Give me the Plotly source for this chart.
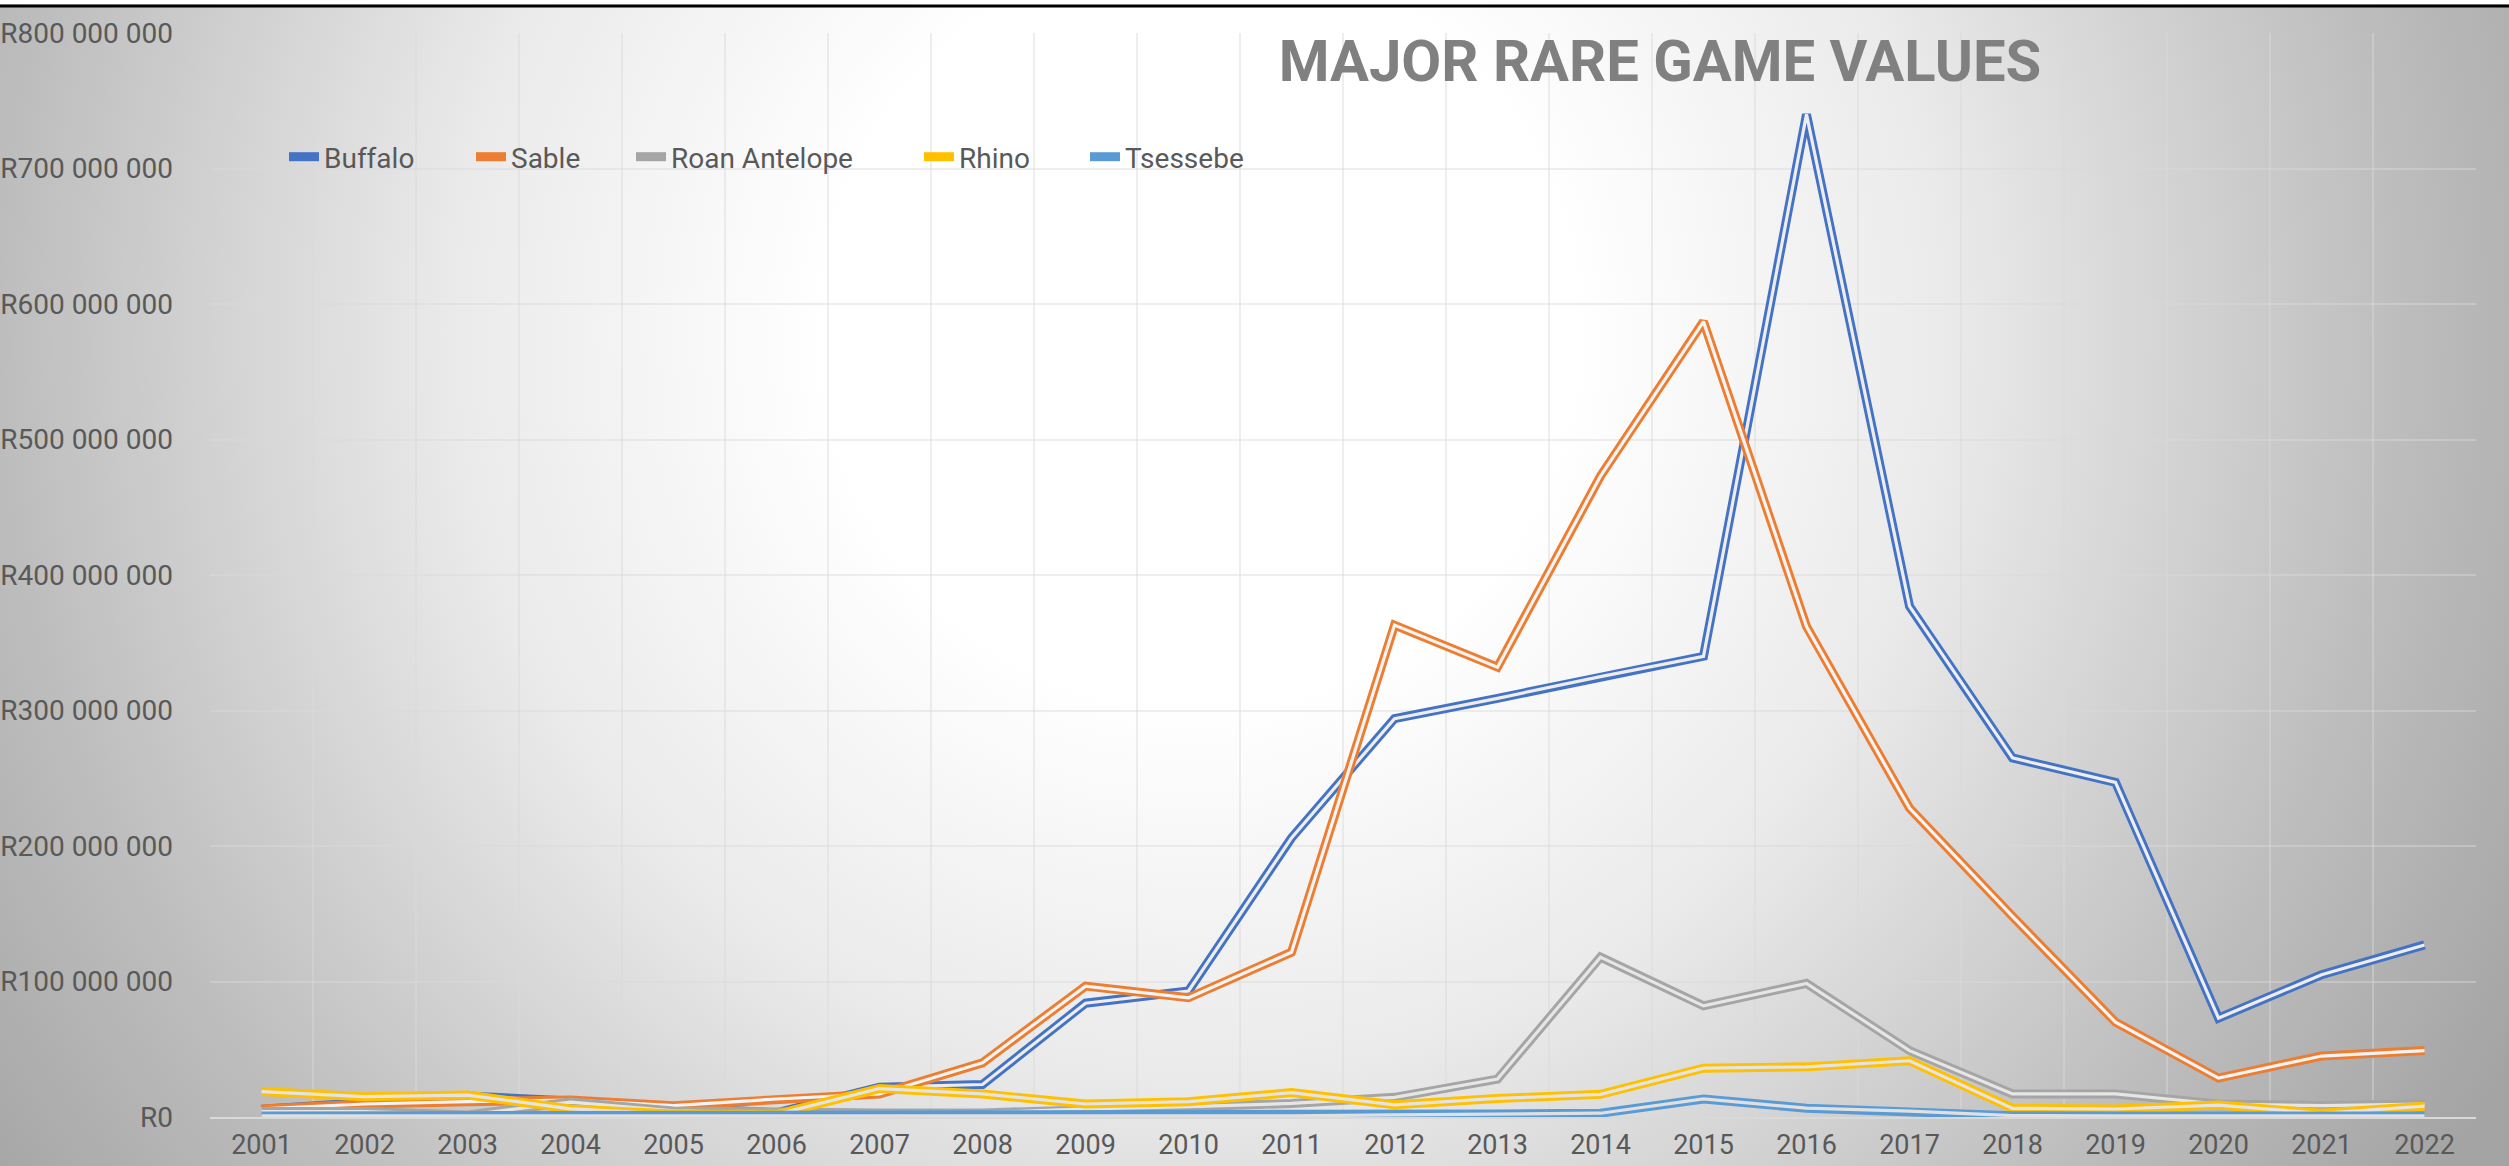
import base64
import plotly.graph_objects as go

# ---------------- data ----------------
YEARS = list(range(2001, 2023))
YEAR_LABELS = [str(y) for y in YEARS]

BUFFALO = [5.7e6, 10.6e6, 15.5e6, 11.8e6, 7.0e6, 3.0e6, 22e6, 24e6, 84e6, 93e6, 206e6,
           294e6, 309e6, 325e6, 340e6, 740e6, 377e6, 265e6, 247e6, 73e6, 105e6, 127e6]
SABLE = [6.0e6, 9.6e6, 11.3e6, 12.5e6, 8.4e6, 13.3e6, 17e6, 40e6, 96.6e6, 88e6, 121.6e6,
         363e6, 332e6, 473e6, 587e6, 362e6, 228e6, 148e6, 70e6, 28.7e6, 45e6, 49e6]
ROAN = [4.0e6, 4.0e6, 1.5e6, 11e6, 4.5e6, 3.0e6, 3.0e6, 3.0e6, 6.0e6, 7.6e6, 10e6,
        14.5e6, 28e6, 118e6, 82e6, 98.6e6, 49e6, 17e6, 17e6, 9.6e6, 8.4e6, 9.6e6]
RHINO = [18.8e6, 15e6, 16.2e6, 6.0e6, 2.2e6, 2.0e6, 21e6, 17e6, 9.6e6, 11.3e6, 18e6,
         9.0e6, 13.7e6, 16.7e6, 36e6, 37e6, 41.5e6, 6.4e6, 5.9e6, 8.8e6, 2.7e6, 8.0e6]
TSESSEBE = [0.8e6, 0.8e6, 0.8e6, 0.8e6, 0.8e6, 0.8e6, 0.8e6, 0.8e6, 0.8e6, 0.8e6, 0.9e6,
            1.5e6, 2.2e6, 2.8e6, 13.3e6, 6.5e6, 4.3e6, 1.0e6, 0.8e6, 0.8e6, 0.8e6, 0.8e6]

SERIES_NAMES = ["Buffalo", "Sable", "Roan Antelope", "Rhino", "Tsessebe"]
SERIES_VALUES = [BUFFALO, SABLE, ROAN, RHINO, TSESSEBE]

Y_TICKS = [0, 1e8, 2e8, 3e8, 4e8, 5e8, 6e8, 7e8, 8e8]
Y_TICK_LABELS = ["R0", "R100 000 000", "R200 000 000", "R300 000 000", "R400 000 000",
                 "R500 000 000", "R600 000 000", "R700 000 000", "R800 000 000"]

TITLE = "MAJOR RARE GAME VALUES"

# ---------------- styles ----------------
COLORS = ["#4472C4", "#ED7D31", "#A5A5A5", "#FFC000", "#5B9BD5"]
GAP_COLORS = ["#ededed", "#f3f3f3", "#e6e6e6", "#e4e4e4", "#e0e0e0"]
LEGEND_TEXT_X = [325, 512, 672, 960, 1126]   # pixel x where each legend label starts
W, H = 2509, 1166
ML, MR, MT, MB = 210, 33, 33, 49
PW, PH = W - ML - MR, H - MT - MB
FONT = "Roboto, Lato, sans-serif"
TXT = "#595959"
GRID = "rgba(217,217,217,0.45)"

svg = f'''<svg xmlns="http://www.w3.org/2000/svg" width="{W}" height="{H}" viewBox="0 0 {W} {H}" preserveAspectRatio="none">
<defs><radialGradient id="g" gradientUnits="userSpaceOnUse" cx="1200" cy="330" r="1500">
<stop offset="0" stop-color="#ffffff"/><stop offset="0.25" stop-color="#ffffff"/>
<stop offset="0.5" stop-color="#eaeaea"/><stop offset="0.8" stop-color="#bdbdbd"/>
<stop offset="1" stop-color="#a4a4a4"/></radialGradient></defs>
<rect width="{W}" height="{H}" fill="url(#g)"/>
<rect width="{W}" height="4.5" fill="#ffffff"/>
<rect y="4.5" width="{W}" height="3" fill="#000000"/>
</svg>'''
bg_uri = "data:image/svg+xml;base64," + base64.b64encode(svg.encode()).decode()

fig = go.Figure()
legend_ids = ["legend", "legend2", "legend3", "legend4", "legend5"]
for name, vals, col, gap, lid in zip(SERIES_NAMES, SERIES_VALUES, COLORS, GAP_COLORS, legend_ids):
    fig.add_trace(go.Scatter(x=YEARS, y=vals, mode="lines", name=name, legendgroup=name,
                             legend=lid, line=dict(color=col, width=9)))
    fig.add_trace(go.Scatter(x=YEARS, y=vals, mode="lines", name=name, legendgroup=name,
                             legend=lid, showlegend=False, hoverinfo="skip",
                             line=dict(color=gap, width=3.2)))

legend_common = dict(orientation="h", xanchor="left", yanchor="top", bgcolor="rgba(0,0,0,0)",
                     y=1 - (132 - MT) / PH, font=dict(family=FONT, size=28, color=TXT))
legend_layout = {lid: dict(legend_common, x=(tx - 41 - ML) / PW)
                 for lid, tx in zip(legend_ids, LEGEND_TEXT_X)}

fig.update_layout(
    width=W, height=H,
    margin=dict(l=ML, r=MR, t=MT, b=MB, pad=0, autoexpand=False),
    paper_bgcolor="#ffffff",
    plot_bgcolor="rgba(0,0,0,0)",
    font=dict(family=FONT, size=28, color=TXT),
    title=dict(text=TITLE, x=1660 / W, xref="container", xanchor="center",
               y=1 - 61 / H, yref="container", yanchor="middle",
               font=dict(family=FONT, size=58, color="#808080", weight=700)),
    showlegend=True,
    images=[dict(source=bg_uri, xref="paper", yref="paper",
                 x=-ML / PW, y=1 + MT / PH, sizex=W / PW, sizey=H / PH,
                 xanchor="left", yanchor="top", sizing="stretch", layer="below")],
    **legend_layout,
)

fig.update_xaxes(range=[2000.5, 2022.5], tickmode="array", tickvals=YEARS, ticktext=YEAR_LABELS,
                 automargin=False, tickfont=dict(family=FONT, size=27, color=TXT),
                 showgrid=False, zeroline=False, showline=True, linecolor="#d9d9d9", linewidth=2,
                 ticks="", ticklabelstandoff=3,
                 minor=dict(tick0=2000.5, dtick=1, showgrid=True, gridcolor=GRID, gridwidth=1.5))
fig.update_yaxes(range=[0, 8e8], tickmode="array", tickvals=Y_TICKS, ticktext=Y_TICK_LABELS,
                 automargin=False,
                 showgrid=True, gridcolor=GRID, gridwidth=1.5, zeroline=False, showline=False,
                 ticks="", ticklabelstandoff=36)

fig.write_html("out.html", config={"displayModeBar": False},
               post_script="document.body.style.margin='0';document.body.style.overflow='hidden';")
